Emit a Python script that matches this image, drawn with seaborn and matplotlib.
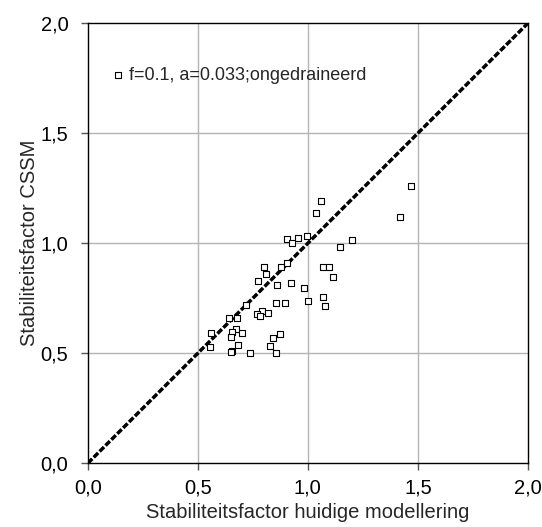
import matplotlib
matplotlib.use("Agg")
import matplotlib.pyplot as plt
import seaborn as sns
import pandas as pd

# Stabiliteitsfactor huidige modellering (x) vs CSSM (y)
x_huidig = [1.060, 1.038, 0.906, 0.956, 0.995, 0.929, 1.144, 1.201, 0.801, 0.877,
            0.906, 0.808, 0.773, 0.862, 0.923, 1.068, 1.095, 1.114, 0.983, 1.071,
            1.076, 1.001, 0.853, 0.897, 0.717, 0.792, 0.820, 0.770, 0.782, 0.640,
            0.676, 0.673, 0.560, 0.656, 0.700, 0.651, 0.874, 0.840, 0.555, 0.682,
            0.829, 0.655, 0.650, 0.738, 0.853, 1.468, 1.421]
y_cssm = [1.190, 1.138, 1.018, 1.023, 1.032, 0.999, 0.985, 1.015, 0.894, 0.894,
          0.908, 0.858, 0.830, 0.812, 0.820, 0.890, 0.890, 0.847, 0.795, 0.756,
          0.714, 0.738, 0.729, 0.729, 0.717, 0.691, 0.683, 0.676, 0.668, 0.660,
          0.660, 0.610, 0.594, 0.597, 0.594, 0.574, 0.586, 0.567, 0.529, 0.536,
          0.535, 0.510, 0.506, 0.503, 0.501, 1.262, 1.121]
series_label = "f=0.1, a=0.033;ongedraineerd"
ticks = [0.0, 0.5, 1.0, 1.5, 2.0]
tick_labels = ["0,0", "0,5", "1,0", "1,5", "2,0"]
diag = [0.0, 2.0]

df = pd.DataFrame({"x": x_huidig, "y": y_cssm})

sns.set_style("white")
plt.rcParams["font.family"] = ["Liberation Sans", "DejaVu Sans"]

fig = plt.figure(figsize=(5.42, 5.27), dpi=100)
ax = fig.add_axes([0.162, 0.121, 0.812, 0.835])

# gridlines
for t in ticks[1:-1]:
    ax.axvline(t, color="#b4b4b4", lw=1, zorder=0)
    ax.axhline(t, color="#b4b4b4", lw=1, zorder=0)

sns.lineplot(x=diag, y=diag, ax=ax, color="black", lw=2.5,
             linestyle=(0, (1.8, 0.6)), zorder=2)
sns.scatterplot(data=df, x="x", y="y", ax=ax, marker="s", s=24,
                facecolor="white", edgecolor="black", linewidth=0.8,
                label=series_label, zorder=3)

ax.set_xlim(0, 2)
ax.set_ylim(0, 2)
ax.set_xticks(ticks)
ax.set_yticks(ticks)
ax.set_xticklabels(tick_labels, fontsize=14.5)
ax.set_yticklabels(tick_labels, fontsize=14.5)
ax.tick_params(bottom=True, left=True, direction="out", length=5, width=1,
               color="#555555", labelcolor="black")
ax.tick_params(axis="y", pad=9)
ax.tick_params(axis="x", pad=6)
ax.set_xlabel("Stabiliteitsfactor huidige modellering", fontsize=14.5, labelpad=4)
ax.set_ylabel("Stabiliteitsfactor CSSM", fontsize=14.5, labelpad=1)

for side in ["left", "bottom", "top", "right"]:
    ax.spines[side].set_color("black")
    ax.spines[side].set_linewidth(1)
    ax.spines[side].set_visible(True)

ax.legend(loc="center left", bbox_to_anchor=(0.02, 0.882), frameon=False,
          fontsize=13, handlelength=0.6, handletextpad=0.3, markerscale=0.75)

fig.savefig("out.png", dpi=100)
